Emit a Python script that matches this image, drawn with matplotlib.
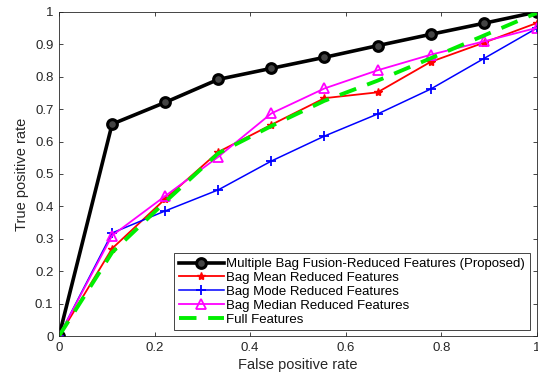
import numpy as np
import matplotlib.pyplot as plt

plt.rcParams['font.family'] = ['Liberation Sans', 'DejaVu Sans']

# ROC points (10 thresholds)
fpr = [0, 1/9, 2/9, 3/9, 4/9, 5/9, 6/9, 7/9, 8/9, 1]
tpr_fusion = [0, 0.654, 0.721, 0.792, 0.826, 0.860, 0.896, 0.931, 0.965, 1.0]
tpr_mean = [0, 0.270, 0.423, 0.568, 0.652, 0.734, 0.752, 0.846, 0.905, 0.966]
tpr_mode = [0, 0.318, 0.386, 0.451, 0.540, 0.617, 0.685, 0.762, 0.856, 0.950]
tpr_median = [0, 0.310, 0.432, 0.553, 0.687, 0.764, 0.820, 0.868, 0.909, 0.951]
tpr_full = [0, 0.258, 0.414, 0.564, 0.648, 0.726, 0.788, 0.857, 0.927, 0.997]

labels = ['Multiple Bag Fusion-Reduced Features (Proposed)',
          'Bag Mean Reduced Features',
          'Bag Mode Reduced Features',
          'Bag Median Reduced Features',
          'Full Features']

fig = plt.figure(figsize=(5.38, 3.83), dpi=100)
ax = fig.add_axes([0.1097, 0.1227, 0.888, 0.846])

ax.plot(fpr, tpr_fusion, color='black', lw=2.6, marker='o', ms=7,
        mfc='#444444', mec='black', mew=2.2, label=labels[0])
ax.plot(fpr, tpr_mean, color='red', lw=1.3, marker='*', ms=6, label=labels[1])
ax.plot(fpr, tpr_mode, color='blue', lw=1.1, marker='+', ms=7, mew=1.3, label=labels[2])
ax.plot(fpr, tpr_median, color='magenta', lw=1.3, marker='^', ms=7,
        mfc='none', mew=1.3, label=labels[3])
ax.plot(fpr, tpr_full, color='#00ee00', lw=2.8, ls=(0, (4.5, 3)), label=labels[4])

ax.set_xlim(0, 1)
ax.set_ylim(0, 1)
ax.set_xticks(np.arange(0, 1.01, 0.2))
ax.set_xticklabels(['0', '0.2', '0.4', '0.6', '0.8', '1'])
ax.set_yticks(np.arange(0, 1.01, 0.1))
ax.set_yticklabels(['0', '0.1', '0.2', '0.3', '0.4', '0.5', '0.6', '0.7', '0.8', '0.9', '1'])
ax.tick_params(direction='in', top=True, right=True, length=3, width=0.6,
               labelsize=9.5, colors='#262626', pad=4)
for s in ax.spines.values():
    s.set_color('#262626')
    s.set_linewidth(0.6)

ax.set_xlabel('False positive rate', fontsize=10.5, color='#262626', labelpad=3)
ax.set_ylabel('True positive rate', fontsize=10.5, color='#262626', labelpad=4)

leg = ax.legend(loc='lower right', bbox_to_anchor=(0.985, 0.018), fontsize=9.5,
                handlelength=3.4, handletextpad=0.2, labelspacing=0.12,
                borderpad=0.35, borderaxespad=0, fancybox=False, framealpha=1,
                numpoints=1)
leg.get_frame().set_edgecolor('#262626')
leg.get_frame().set_linewidth(0.6)

fig.savefig('out.png', dpi=100)
